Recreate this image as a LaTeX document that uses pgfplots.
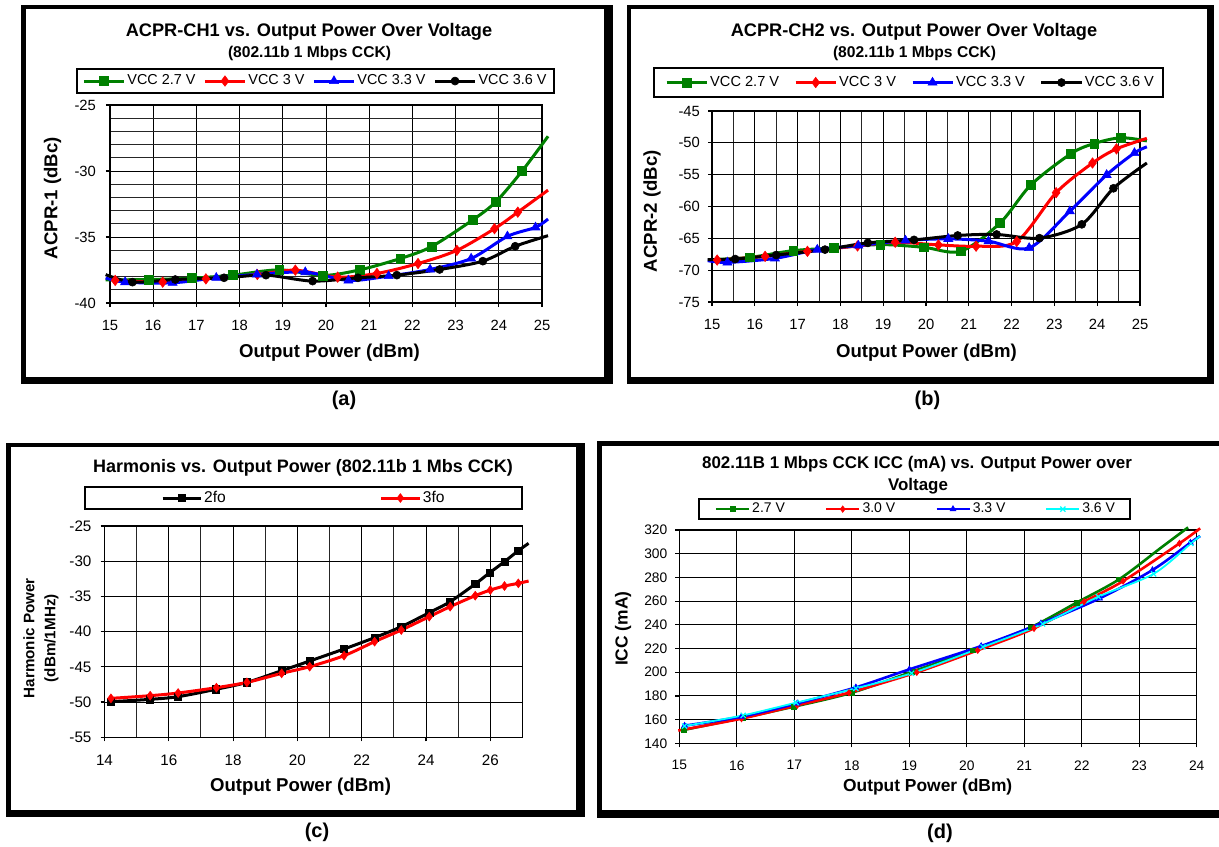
\documentclass[border=0pt]{standalone}
\usepackage{fontspec}
\setmainfont{Liberation Sans}
\usepackage{pgfplots}
\pgfplotsset{compat=1.18}
\definecolor{xgreen}{RGB}{0,128,0}
\definecolor{xred}{RGB}{255,0,0}
\definecolor{xblue}{RGB}{0,0,255}
\definecolor{xcyan}{RGB}{0,255,255}
\pgfplotsset{
  excel/.style={
    scale only axis, clip=false,
    /pgf/number format/assume math mode=true,
    tick pos=left, tick align=outside,
    major tick length=2pt, minor tick length=0pt,
    tick style={black, line width=0.6pt},
    axis line style={black, line width=0.6pt},
    major grid style={black, line width=0.5pt},
    minor grid style={black!85, line width=0.5pt},
    label style={font=\fontsize{9.3}{10.5}\selectfont\bfseries},
    legend cell align=left,
    legend style={draw=none, fill=none, inner sep=0pt, anchor=center,
      nodes={inner sep=1pt}},
  },
  ser/.style={smooth, line width=1.5pt, color=#1, mark options={solid, line width=0.3pt}},
}
\begin{document}
\begin{tikzpicture}
\useasboundingbox (0pt,0pt) rectangle (609.5pt,-423pt);
% panel frames
\fill[black] (10.5pt,-2.5pt) rectangle (306.5pt,-192pt);
\fill[white] (13pt,-4.5pt) rectangle (302pt,-188.5pt);
\fill[black] (313.5pt,-2.5pt) rectangle (607pt,-192pt);
\fill[white] (315.5pt,-4.5pt) rectangle (603.5pt,-188.5pt);
\fill[black] (3pt,-221.5pt) rectangle (292.5pt,-408.5pt);
\fill[white] (5.5pt,-223.5pt) rectangle (288pt,-405pt);
\fill[black] (298.5pt,-220.5pt) rectangle (625pt,-409pt);
\fill[white] (301pt,-223pt) rectangle (620pt,-405pt);
% legend frames
\draw[black, line width=0.6pt] (38.5pt,-34.5pt) rectangle (277pt,-46.5pt);
\draw[black, line width=0.6pt] (327pt,-34pt) rectangle (581.5pt,-48.5pt);
\draw[black, line width=0.6pt] (42.5pt,-243.5pt) rectangle (261pt,-254.5pt);
\draw[black, line width=0.6pt] (349.5pt,-249.5pt) rectangle (565pt,-259.5pt);
% titles
\node[font=\fontsize{9.1}{10}\selectfont\bfseries] at (154.5pt,-16pt) {ACPR-CH1 vs. Output Power Over Voltage};
\node[font=\fontsize{7.8}{8}\selectfont\bfseries] at (154.75pt,-26.5pt) {(802.11b 1 Mbps CCK)};
\node[font=\fontsize{9.1}{10}\selectfont\bfseries] at (457pt,-16pt) {ACPR-CH2 vs. Output Power Over Voltage};
\node[font=\fontsize{7.8}{8}\selectfont\bfseries] at (457.25pt,-26.5pt) {(802.11b 1 Mbps CCK)};
\node[font=\fontsize{9}{10}\selectfont\bfseries] at (151.5pt,-233.85pt) {Harmonis vs. Output Power (802.11b 1 Mbs CCK)};
\node[font=\fontsize{8.45}{10}\selectfont\bfseries] at (458.5pt,-232.15pt) {802.11B 1 Mbps CCK ICC (mA) vs. Output Power over};
\node[font=\fontsize{8.45}{10}\selectfont\bfseries] at (459pt,-243pt) {Voltage};
\node[font=\fontsize{10}{12}\selectfont\bfseries] at (172pt,-200pt) {(a)};
\node[font=\fontsize{10}{12}\selectfont\bfseries] at (463.75pt,-200pt) {(b)};
\node[font=\fontsize{10}{12}\selectfont\bfseries] at (158.5pt,-416.35pt) {(c)};
\node[font=\fontsize{10}{12}\selectfont\bfseries] at (470pt,-416.5pt) {(d)};

% ---------------- (a) ----------------
\begin{axis}[excel,
  at={(55pt,-151.5pt)}, anchor=south west,
  width=216pt, height=99pt,
  xmin=15, xmax=25, ymin=-40, ymax=-25,
  xtick={15,16,...,25}, ytick={-40,-35,-30,-25},
  minor y tick num=4,
  xmajorgrids, ymajorgrids, yminorgrids,
  tick label style={font=\fontsize{7.4}{8}\selectfont},
  xticklabel style={yshift=-3pt}, yticklabel style={xshift=-1.5pt},
  xlabel={Output Power (dBm)}, ylabel={ACPR-1 (dBc)},
  xlabel style={at={(axis description cs:0.508,-0.2525)}, anchor=center},
  ylabel style={at={(axis description cs:-0.133,0.53)}, anchor=center},
  legend columns=4,
  legend style={at={(axis description cs:0.4757,1.121)}, font=\fontsize{7.2}{8}\selectfont,
    /tikz/every even column/.append style={column sep=3pt}},
  legend image code/.code={\draw[#1, mark indices={2}] plot coordinates {(0pt,0pt) (10pt,0pt) (20pt,0pt)};},
]
\addplot[ser=xgreen, mark=square*, mark size=2.2pt, mark indices={2,...,12}] coordinates {
(14.9,-38.25) (15.89,-38.22) (16.89,-38.12) (17.84,-37.89) (18.92,-37.49) (19.93,-37.91)
(20.78,-37.49) (21.72,-36.63) (22.44,-35.73) (23.39,-33.72) (23.93,-32.34) (24.54,-30.0) (25.14,-27.37)};
\addlegendentry{VCC 2.7 V}
\addplot[ser=xred, mark=diamond*, mark size=2.6pt, mark indices={1,...,11}] coordinates {
(15.12,-38.29) (16.22,-38.42) (17.22,-38.17) (18.41,-37.84) (19.29,-37.51) (20.27,-38.04)
(21.18,-37.76) (22.13,-37.01) (23.03,-36.01) (23.90,-34.37) (24.44,-33.12) (25.14,-31.45)};
\addlegendentry{VCC 3 V}
\addplot[ser=xblue, mark=triangle*, mark size=2.6pt, mark indices={2,...,12}] coordinates {
(14.9,-38.1) (15.35,-38.42) (16.45,-38.47) (17.46,-38.09) (18.40,-37.84) (19.52,-37.66)
(20.52,-38.29) (21.45,-37.96) (22.41,-37.46) (23.36,-36.63) (24.20,-34.95) (24.85,-34.27) (25.14,-33.64)};
\addlegendentry{VCC 3.3 V}
\addplot[ser=black, mark=*, mark size=2pt, mark indices={2,...,11}] coordinates {
(14.9,-37.85) (15.52,-38.42) (16.51,-38.22) (17.64,-38.09) (18.61,-37.89) (19.69,-38.34)
(20.74,-38.09) (21.64,-37.89) (22.63,-37.46) (23.63,-36.83) (24.38,-35.70) (25.14,-34.9)};
\addlegendentry{VCC 3.6 V}
\end{axis}

% ---------------- (b) ----------------
\begin{axis}[excel,
  at={(356pt,-151pt)}, anchor=south west,
  width=214pt, height=95.5pt,
  xmin=15, xmax=25, ymin=-75, ymax=-45,
  xtick={15,16,...,25}, ytick={-75,-70,...,-45},
  minor x tick num=1,
  xmajorgrids, xminorgrids, ymajorgrids,
  tick label style={font=\fontsize{7.4}{8}\selectfont},
  xticklabel style={yshift=-3pt}, yticklabel style={xshift=-0.5pt},
  xlabel={Output Power (dBm)}, ylabel={ACPR-2 (dBc)},
  xlabel style={at={(axis description cs:0.501,-0.267)}, anchor=center},
  ylabel style={at={(axis description cs:-0.140,0.476)}, anchor=center},
  legend columns=4,
  legend style={at={(axis description cs:0.464,1.149)}, font=\fontsize{7.3}{8}\selectfont,
    /tikz/every even column/.append style={column sep=6.5pt}},
  legend image code/.code={\draw[#1, mark indices={2}] plot coordinates {(0pt,0pt) (10pt,0pt) (20pt,0pt)};},
]
\addplot[ser=xgreen, mark=square*, mark size=2.2pt, mark indices={2,...,12}] coordinates {
(15.1,-68.3) (15.89,-67.99) (16.90,-66.93) (17.85,-66.51) (18.93,-65.98) (19.94,-66.40)
(20.81,-67.04) (21.73,-62.59) (22.45,-56.61) (23.39,-51.69) (23.93,-50.11) (24.55,-49.2) (25.16,-49.7)};
\addlegendentry{VCC 2.7 V}
\addplot[ser=xred, mark=diamond*, mark size=2.6pt, mark indices={1,...,11}] coordinates {
(15.12,-68.41) (16.24,-67.83) (17.23,-67.04) (18.40,-66.2) (19.28,-65.61) (20.29,-66.03)
(21.17,-66.24) (22.12,-65.50) (23.04,-57.83) (23.89,-53.17) (24.45,-50.95) (25.16,-49.3)};
\addlegendentry{VCC 3 V}
\addplot[ser=xblue, mark=triangle*, mark size=2.6pt, mark indices={2,...,12}] coordinates {
(14.9,-68.5) (15.36,-68.78) (16.47,-68.15) (17.46,-66.77) (18.42,-66.14) (19.52,-65.34)
(20.52,-65.08) (21.46,-65.45) (22.41,-66.51) (23.36,-60.74) (24.22,-55.03) (24.87,-51.59) (25.16,-50.63)};
\addlegendentry{VCC 3.3 V}
\addplot[ser=black, mark=*, mark size=2pt, mark indices={2,...,11}] coordinates {
(14.9,-68.35) (15.54,-68.25) (16.50,-67.62) (17.64,-66.77) (18.64,-65.71) (19.72,-65.24)
(20.74,-64.55) (21.65,-64.39) (22.65,-64.97) (23.64,-62.80) (24.38,-57.14) (25.16,-53.17)};
\addlegendentry{VCC 3.6 V}
\end{axis}

% ---------------- (c) ----------------
\begin{axis}[excel,
  at={(52.25pt,-368.65pt)}, anchor=south west,
  width=209pt, height=105.65pt,
  xmin=14, xmax=27, ymin=-55, ymax=-25,
  xtick={14,16,...,26}, ytick={-55,-50,...,-25},
  minor x tick num=1,
  xmajorgrids, xminorgrids, ymajorgrids,
  tick label style={font=\fontsize{7.6}{8}\selectfont},
  xticklabel style={yshift=-3.5pt}, yticklabel style={xshift=-1pt},
  xlabel={Output Power (dBm)}, ylabel={Harmonic Power\\(dBm/1MHz)},
  xlabel style={at={(axis description cs:0.469,-0.232)}, anchor=center},
  ylabel style={at={(axis description cs:-0.152,0.469)}, anchor=center, align=center,
    font=\fontsize{7.6}{10.5}\selectfont\bfseries},
  legend columns=2,
  legend style={at={(axis description cs:0.477,1.1325)}, font=\fontsize{7.8}{9}\selectfont,
    /tikz/every even column/.append style={column sep=76pt}},
  legend image code/.code={\draw[#1, mark indices={2}] plot coordinates {(0pt,0pt) (9.5pt,0pt) (19pt,0pt)};},
]
\addplot[ser=black, mark=square*, mark size=1.8pt, mark indices={1,...,16}] coordinates {
(14.20,-49.94) (15.42,-49.61) (16.29,-49.23) (17.46,-48.19) (18.43,-47.20) (19.51,-45.54)
(20.38,-44.17) (21.45,-42.46) (22.40,-40.85) (23.23,-39.29) (24.10,-37.30) (24.75,-35.74)
(25.53,-33.23) (25.98,-31.63) (26.44,-30.06) (26.87,-28.50) (27.19,-27.46)};
\addlegendentry{2fo}
\addplot[ser=xred, mark=diamond*, mark size=2.2pt, mark indices={1,...,16}] coordinates {
(14.20,-49.47) (15.42,-49.09) (16.29,-48.71) (17.48,-47.95) (18.43,-47.20) (19.51,-45.92)
(20.38,-44.97) (21.45,-43.41) (22.40,-41.42) (23.23,-39.77) (24.10,-37.87) (24.75,-36.45)
(25.53,-34.89) (26.00,-34.09) (26.44,-33.52) (26.87,-33.14) (27.19,-32.81)};
\addlegendentry{3fo}
\end{axis}

% ---------------- (d) ----------------
\begin{axis}[excel,
  at={(339.7pt,-371.65pt)}, anchor=south west,
  width=258.65pt, height=106.65pt,
  xmin=15, xmax=24, ymin=140, ymax=320,
  xtick={15,16,...,24}, ytick={140,160,...,320},
  xmajorgrids, ymajorgrids,
  tick label style={font=\fontsize{6.9}{8}\selectfont},
  xticklabel style={yshift=-3pt}, yticklabel style={xshift=-0.5pt},
  label style={font=\fontsize{8.7}{10}\selectfont\bfseries},
  xlabel={Output Power (dBm)}, ylabel={ICC (mA)},
  xlabel style={at={(axis description cs:0.48,-0.206)}, anchor=center},
  ylabel style={at={(axis description cs:-0.109,0.537)}, anchor=center},
  legend columns=4,
  legend style={at={(axis description cs:0.457,1.098)}, font=\fontsize{7}{8}\selectfont,
    /tikz/every even column/.append style={column sep=19pt}},
  legend image code/.code={\draw[#1, mark indices={2}] plot coordinates {(0pt,0pt) (8.25pt,0pt) (16.5pt,0pt)};},
]
\addplot[ser=xgreen, line width=1.3pt, mark=square*, mark size=1.2pt, mark indices={1,...,9}] coordinates {
(15.07,151.2) (16.1,161.5) (16.99,170.9) (18.00,182.7) (19.05,200.5) (20.10,218.5)
(21.11,237.9) (21.91,258.7) (22.65,278.4) (23.38,305.1) (23.85,322.2)};
\addlegendentry{2.7 V}
\addplot[ser=xred, line width=1.3pt, mark=diamond*, mark size=1.6pt, mark indices={2,...,10}] coordinates {
(14.98,150.8) (16.08,160.8) (17.05,172.1) (17.95,182.7) (19.13,199.9) (20.19,218.5)
(21.17,237.0) (22.04,259.5) (22.72,276.9) (23.70,308.7) (24.06,321.4)};
\addlegendentry{3.0 V}
\addplot[ser=xblue, line width=1.3pt, mark=triangle*, mark size=1.7pt, mark indices={1,...,10}] coordinates {
(15.09,154.9) (16.08,162.5) (17.05,173.7) (18.07,187.2) (19.0,202.4) (20.25,222.1)
(21.29,241.2) (22.31,262.3) (23.23,286.2) (23.89,309.3) (24.06,314.9)};
\addlegendentry{3.3 V}
\addplot[ser=xcyan, line width=0.9pt, mark=x, mark size=1.8pt, mark options={line width=0.6pt}, mark indices={1,...,10}] coordinates {
(15.09,154.6) (16.11,163.6) (17.03,174.3) (18.07,186.4) (19.04,199.1) (20.28,221.3)
(21.32,240.7) (22.29,263.7) (23.25,283.0) (23.90,308.7) (24.06,314.9)};
\addlegendentry{3.6 V}
\end{axis}
\end{tikzpicture}
\end{document}
